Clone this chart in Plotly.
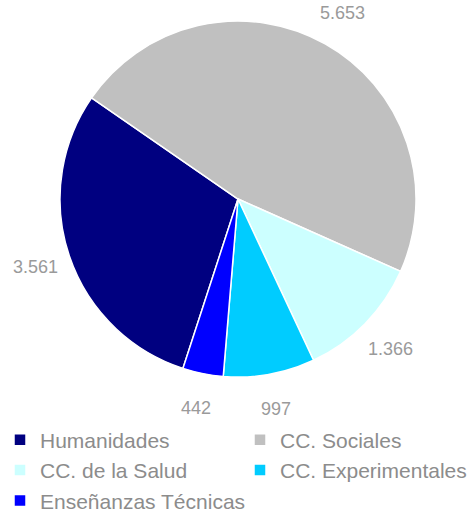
import math
import plotly.graph_objects as go

categories = ["Humanidades", "CC. Sociales", "CC. de la Salud", "CC. Experimentales", "Enseñanzas Técnicas"]
values = [3561, 5653, 1366, 997, 442]
value_labels = ["3.561", "5.653", "1.366", "997", "442"]
colors = ["#000080", "#C0C0C0", "#CCFFFF", "#00CCFF", "#0000FF"]

W, H = 476, 513
ROTATION = 198
dom_x = [0.126, 0.874]
dom_y = [0.265, 0.959]

fig = go.Figure(go.Pie(
    labels=categories,
    values=values,
    sort=False,
    direction="clockwise",
    rotation=ROTATION,
    marker=dict(colors=colors, line=dict(color="white", width=1.5)),
    textinfo="none",
    hoverinfo="label+value",
    domain=dict(x=dom_x, y=dom_y),
))

# value labels placed outside each slice at its mid angle
cx = (dom_x[0] + dom_x[1]) / 2 * W
cy = (1 - (dom_y[0] + dom_y[1]) / 2) * H
R = min((dom_x[1] - dom_x[0]) * W, (dom_y[1] - dom_y[0]) * H) / 2
total = sum(values)
cum = 0
annotations = []
for v, lab in zip(values, value_labels):
    mid = math.radians(ROTATION + (cum + v / 2) / total * 360)
    cum += v
    rl = R * 1.2
    px = cx + rl * math.sin(mid)
    py = cy - rl * math.cos(mid)
    annotations.append(dict(
        x=px / W, y=1 - py / H, xref="paper", yref="paper",
        text=lab, showarrow=False, xanchor="center", yanchor="middle",
        font=dict(family="Liberation Sans, Arial, sans-serif", size=18, color="#9a9a9a"),
    ))

fig.update_layout(
    width=W, height=H,
    margin=dict(l=0, r=0, t=0, b=0, autoexpand=False),
    paper_bgcolor="white",
    plot_bgcolor="white",
    annotations=annotations,
    showlegend=True,
    legend=dict(
        orientation="h",
        x=0.0, xanchor="left",
        y=0.182, yanchor="top",
        entrywidth=195, entrywidthmode="pixels",
        font=dict(family="Liberation Sans, Arial, sans-serif", size=21, color="#8c8c8c"),
        traceorder="normal",
    ),
)

fig.write_html(
    "out.html",
    config={"displayModeBar": False},
    post_script="document.body.style.margin='0';document.body.style.padding='0';",
)
